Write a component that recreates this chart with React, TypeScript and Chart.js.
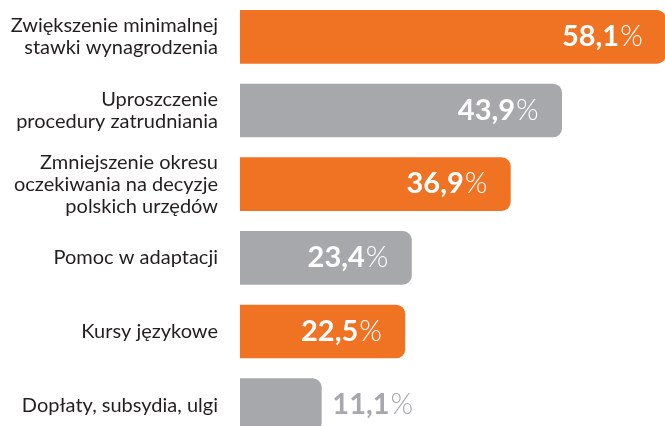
import React, { useEffect, useRef } from "react";
import { Chart, registerables } from "chart.js";

Chart.register(...registerables);

const categories: (string | string[])[] = [
  ["Zwiększenie minimalnej", "stawki wynagrodzenia"],
  ["Uproszczenie", "procedury zatrudniania"],
  ["Zmniejszenie okresu", "oczekiwania na decyzje", "polskich urzędów"],
  "Pomoc w adaptacji",
  "Kursy językowe",
  "Dopłaty, subsydia, ulgi",
];
const values = [58.1, 43.9, 36.9, 23.4, 22.5, 11.1];
const valueLabels = ["58,1", "43,9", "36,9", "23,4", "22,5", "11,1"];
const ORANGE = "#F07324";
const GRAY = "#A7A8AC";
const barColors = [ORANGE, GRAY, ORANGE, GRAY, ORANGE, GRAY];

const FONT = "Lato, 'Open Sans', sans-serif";
const VSIZE = 29;

const valueLabelPlugin = {
  id: "valueLabels",
  afterDatasetsDraw(chart: any) {
    const ctx = chart.ctx;
    const meta = chart.getDatasetMeta(0);
    ctx.save();
    ctx.textBaseline = "alphabetic";
    meta.data.forEach((bar: any, i: number) => {
      const num = valueLabels[i];
      const y = bar.y + 9;
      ctx.font = `bold ${VSIZE}px ${FONT}`;
      const wNum = ctx.measureText(num).width;
      ctx.font = `300 ${VSIZE}px ${FONT}`;
      const wPct = ctx.measureText("%").width;
      let xStart: number;
      let color: string;
      if (values[i] > 15) {
        xStart = bar.x - 24 - wNum - wPct;
        color = "#FFFFFF";
      } else {
        xStart = bar.x + 11;
        color = GRAY;
      }
      ctx.fillStyle = color;
      ctx.textAlign = "left";
      ctx.font = `bold ${VSIZE}px ${FONT}`;
      ctx.fillText(num, xStart, y);
      ctx.font = `300 ${VSIZE}px ${FONT}`;
      ctx.fillText("%", xStart + wNum + 1, y);
    });
    ctx.restore();
  },
};

export default function App() {
  const ref = useRef<HTMLCanvasElement | null>(null);
  useEffect(() => {
    if (!ref.current) return;
    const chart = new Chart(ref.current, {
      type: "bar",
      data: {
        labels: categories,
        datasets: [
          {
            data: values,
            backgroundColor: barColors,
            borderRadius: 9,
            borderSkipped: "start",
            barThickness: 53,
          },
        ],
      },
      options: {
        indexAxis: "y",
        animation: false,
        responsive: false,
        maintainAspectRatio: false,
        layout: { padding: 0 },
        plugins: {
          legend: { display: false },
          tooltip: { enabled: false },
        },
        scales: {
          x: {
            display: false,
            min: 0,
            max: 58,
          },
          y: {
            grid: { display: false, drawTicks: false },
            border: { display: false },
            afterFit: (scale: any) => {
              scale.width = 240;
              scale.paddingTop = 0;
              scale.paddingBottom = 0;
            },
            ticks: {
              padding: 22,
              color: "#231F20",
              font: { family: FONT, size: 20, lineHeight: 1.1 },
            },
          },
        },
      },
      plugins: [valueLabelPlugin],
    });
    return () => chart.destroy();
  }, []);
  return (
    <div style={{ position: "fixed", left: 0, top: 0, width: 665, height: 442, background: "#fff" }}>
      <canvas ref={ref} width={665} height={442} style={{ width: 665, height: 442 }} />
    </div>
  );
}
